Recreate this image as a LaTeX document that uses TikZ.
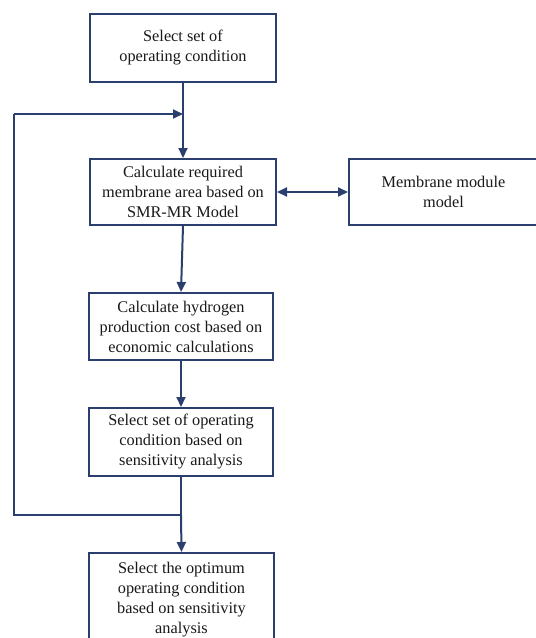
\documentclass[tikz,border=0pt]{standalone}
\usepackage{fontspec}
\setmainfont{Liberation Serif}
\usetikzlibrary{arrows.meta}
\definecolor{navy}{HTML}{2B3F6E}
\begin{document}
\begin{tikzpicture}[x=1pt,y=-1pt,
  box/.style={draw=navy,line width=2pt,rectangle,inner sep=0pt,align=center,
    font=\fontsize{16.3}{20}\selectfont,text=black!90},
  conn/.style={draw=navy,line width=2pt},
  arr/.style={conn,-{Triangle[length=10pt,width=9pt]}}]
\useasboundingbox (0,0) rectangle (536,638);
\fill[white] (0,0) rectangle (536,638);
\begin{scope}
\clip (0,0) rectangle (536,638);
\node[box,minimum width=186pt,minimum height=68pt] (b1) at (183,48) {Select set of\\operating condition};
\node[box,minimum width=186pt,minimum height=66pt] (b2) at (183,192) {Calculate required\\membrane area based on\\SMR-MR Model};
\node[box,minimum width=189pt,minimum height=66pt] (mm) at (443.5,192) {Membrane module\\model};
\node[box,minimum width=184pt,minimum height=67pt] (b3) at (181,326.5) {Calculate hydrogen\\production cost based on\\economic calculations};
\node[box,minimum width=184pt,minimum height=68pt] (b4) at (181,442) {Select set of operating\\condition based on\\sensitivity analysis};
\node[box,minimum width=185pt,minimum height=94pt] (b5) at (181.5,600) {Select the optimum\\operating condition\\based on sensitivity\\analysis};
\coordinate (j1) at (183,114);
\coordinate (j2) at (181,515);
\coordinate (c1) at (14,515);
\coordinate (c2) at (14,114);
\draw[conn] (b1.south) -- (j1);
\draw[arr] (j1) -- (b2.north);
\draw[conn,{Triangle[length=10pt,width=9pt]}-{Triangle[length=10pt,width=9pt]}] (b2.east) -- (mm.west);
\draw[arr] (b2.south) -- (b3.north);
\draw[arr] (b3.south) -- (b4.north);
\draw[conn] (b4.south) -- (j2);
\draw[arr] (j2) -- (b5.north);
\draw[conn] (j2) -- (c1) -- (c2);
\draw[arr] (c2) -- (j1);
\end{scope}
\end{tikzpicture}
\end{document}
